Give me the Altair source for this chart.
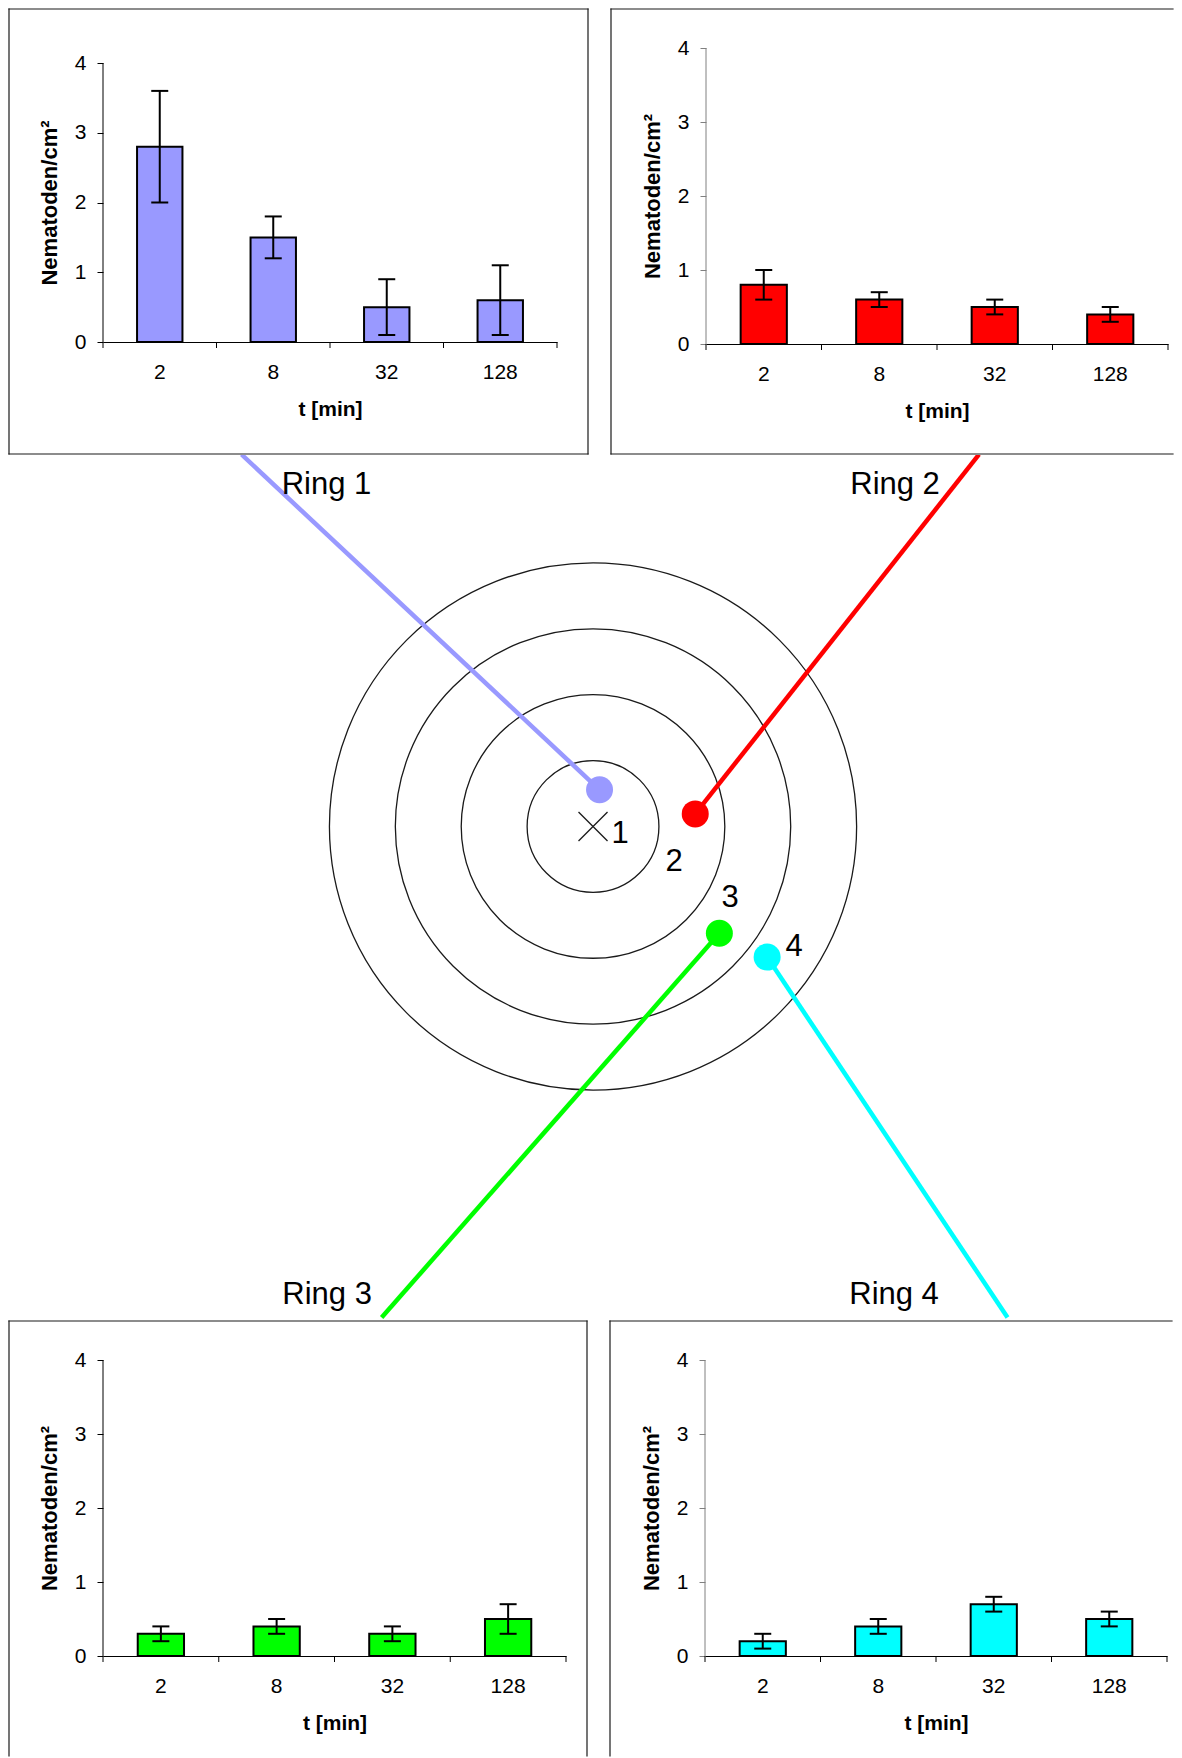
import altair as alt
import pandas as pd

# ---------------- data ----------------
times = ["2", "8", "32", "128"]
y_ticks = [0, 1, 2, 3, 4]

ring_names = ["Ring 1", "Ring 2", "Ring 3", "Ring 4"]
ring_colors = ["#9999FF", "#FF0000", "#00FF00", "#00FFFF"]

mean_1 = [2.8, 1.5, 0.5, 0.6]
low_1 = [2.0, 1.2, 0.1, 0.1]
high_1 = [3.6, 1.8, 0.9, 1.1]

mean_2 = [0.8, 0.6, 0.5, 0.4]
low_2 = [0.6, 0.5, 0.4, 0.3]
high_2 = [1.0, 0.7, 0.6, 0.5]

mean_3 = [0.3, 0.4, 0.3, 0.5]
low_3 = [0.2, 0.3, 0.2, 0.3]
high_3 = [0.4, 0.5, 0.4, 0.7]

mean_4 = [0.2, 0.4, 0.7, 0.5]
low_4 = [0.1, 0.3, 0.6, 0.4]
high_4 = [0.3, 0.5, 0.8, 0.6]

# target diagram, in units of one ring width, centre of the rings at (0, 0)
ring_radius = [1, 2, 3, 4]
ring_number = ["1", "2", "3", "4"]
number_x = [0.41, 1.229, 2.079, 3.05]
number_y = [-0.258, -0.683, -1.229, -1.958]
dot_x = [0.099, 1.551, 1.917, 2.642]
dot_y = [0.557, 0.191, -1.621, -1.982]
lead_x = [-5.334, 5.857, -3.208, 6.290]
lead_y = [5.645, 5.645, -7.451, -7.451]
label_x = [-4.044, 4.583, -4.036, 4.568]
label_y = [5.042, 5.042, -7.253, -7.253]
diagram_x_domain = [-7.436, 8.801]
diagram_y_domain = [-7.489, 5.637]

FONT = "Liberation Sans"
one = pd.DataFrame({"a": [0]})


def panel(mean, low, high, color, w, h, ymax, title_y, axis_color, segments):
    df = pd.DataFrame({"t": times, "mean": mean, "low": low, "high": high})
    xscale = alt.Scale(domain=times, paddingInner=0, paddingOuter=0)
    yscale = alt.Scale(domain=[0, ymax], nice=False, zero=True)
    xaxis = alt.Axis(title="t [min]", labelAngle=0, ticks=False, tickSize=0,
                     labelPadding=30, labelBaseline="middle", labelFontSize=21,
                     labelColor="black", domainColor="black", domainWidth=1,
                     titleFontSize=21, titleFontWeight="bold", titleColor="black",
                     titleY=67, titleBaseline="middle")
    yaxis = alt.Axis(values=y_ticks, domain=False, grid=False, tickSize=6,
                     tickColor=axis_color, labelPadding=11, labelFontSize=21,
                     labelColor="black", title="Nematoden/cm²", titleFontSize=22,
                     titleFontWeight="bold", titleColor="black", titleAngle=270,
                     titleX=-54, titleY=title_y, titleBaseline="middle",
                     titleAlign="center")
    X = alt.X("t:N", sort=times, scale=xscale, axis=xaxis)
    base = alt.Chart(df)

    layers = []
    for (x1, x2, y1, y2) in segments:
        layers.append(
            alt.Chart(one).mark_rule(color="#1a1a1a", strokeWidth=1.2, strokeCap="square").encode(
                x=alt.value(x1), x2=alt.value(x2), y=alt.value(y1), y2=alt.value(y2))
        )
    bars = base.mark_bar(width=alt.RelativeBandSize(0.4), fill=color,
                         stroke="black", strokeWidth=2).encode(
        x=X, y=alt.Y("mean:Q", scale=yscale, axis=yaxis))
    err = base.mark_rule(color="black", strokeWidth=2).encode(
        x=X, y=alt.Y("low:Q", scale=yscale, axis=yaxis), y2="high:Q")
    cap_lo = base.mark_tick(color="black", thickness=2, size=17, opacity=1).encode(
        x=X, y=alt.Y("low:Q", scale=yscale, axis=yaxis))
    cap_hi = base.mark_tick(color="black", thickness=2, size=17, opacity=1).encode(
        x=X, y=alt.Y("high:Q", scale=yscale, axis=yaxis))
    yline = alt.Chart(pd.DataFrame({"y0": [0], "y1": [4]})).mark_rule(
        color=axis_color, strokeWidth=1).encode(
        x=alt.value(0), y=alt.Y("y0:Q", scale=yscale, axis=yaxis), y2="y1:Q")
    xticks = base.mark_rule(color="black", strokeWidth=1).encode(
        x=alt.X("t:N", sort=times, scale=xscale, axis=xaxis, bandPosition=0),
        y=alt.value(h), y2=alt.value(h + 6))
    xend = alt.Chart(one).mark_rule(color="black", strokeWidth=1).encode(
        x=alt.value(w), y=alt.value(h), y2=alt.value(h + 6))
    layers += [bars, err, cap_lo, cap_hi, yline, xticks, xend]
    return alt.layer(*layers).properties(width=w, height=h)


p1 = panel(mean_1, low_1, high_1, ring_colors[0], 454, 294, 4 * 294 / 279, 154.5, "black",
           [(-94, -94, -39, 406), (485, 485, -39, 406), (-94, 485, -39, -39), (-94, 485, 406, 406)])
p2 = panel(mean_2, low_2, high_2, ring_colors[1], 462, 296, 4, 148, "#808080",
           [(-95, -95, -39, 406), (-95, 467, -39, -39), (-95, 467, 406, 406)])
p3 = panel(mean_3, low_3, high_3, ring_colors[2], 463, 296, 4, 148, "black",
           [(-94, -94, -39, 396), (-94, 484, -39, -39), (484, 484, -39, 396)])
p4 = panel(mean_4, low_4, high_4, ring_colors[3], 462, 296, 4, 148, "#808080",
           [(-95, -95, -39, 396), (-95, 467, -39, -39)])

# ---------------- diagram ----------------
DW, DH = 1070, 865
px_per_unit = DW / (diagram_x_domain[1] - diagram_x_domain[0])
xs = alt.Scale(domain=diagram_x_domain, nice=False, zero=False)
ys = alt.Scale(domain=diagram_y_domain, nice=False, zero=False)
DX = lambda f: alt.X(f, scale=xs, axis=None)
DY = lambda f: alt.Y(f, scale=ys, axis=None)
cscale = alt.Scale(domain=ring_names, range=ring_colors)

rings_df = pd.DataFrame({"x": [0] * 4, "y": [0] * 4, "r2": [r * r for r in ring_radius]})
rings = alt.Chart(rings_df).mark_point(shape="circle", filled=False, stroke="#1a1a1a",
                                       strokeWidth=1.3, opacity=1).encode(
    x=DX("x:Q"), y=DY("y:Q"),
    size=alt.Size("r2:Q", scale=alt.Scale(domain=[0, 16], range=[0, 16 * (2 * px_per_unit) ** 2]),
                  legend=None))

centre = alt.Chart(pd.DataFrame({"x": [0], "y": [0]})).mark_point(
    shape="M-1,-1L1,1M-1,1L1,-1", size=841, filled=False, stroke="#1a1a1a",
    strokeWidth=1.3, opacity=1).encode(x=DX("x:Q"), y=DY("y:Q"))

lead_rows = []
for i, name in enumerate(ring_names):
    lead_rows.append({"ring": name, "x": dot_x[i], "y": dot_y[i], "o": 0})
    lead_rows.append({"ring": name, "x": lead_x[i], "y": lead_y[i], "o": 1})
leads = alt.Chart(pd.DataFrame(lead_rows)).mark_line(strokeWidth=4.5, clip=True).encode(
    x=DX("x:Q"), y=DY("y:Q"), color=alt.Color("ring:N", scale=cscale, legend=None),
    detail="ring:N", order="o:Q")

dots = alt.Chart(pd.DataFrame({"ring": ring_names, "x": dot_x, "y": dot_y})).mark_point(
    shape="circle", filled=True, size=729, opacity=1).encode(
    x=DX("x:Q"), y=DY("y:Q"), color=alt.Color("ring:N", scale=cscale, legend=None))

numbers = alt.Chart(pd.DataFrame({"n": ring_number, "x": number_x, "y": number_y})).mark_text(
    fontSize=31, align="center", baseline="alphabetic", color="black").encode(
    x=DX("x:Q"), y=DY("y:Q"), text="n:N")

labels = alt.Chart(pd.DataFrame({"n": ring_names, "x": label_x, "y": label_y})).mark_text(
    fontSize=31, align="center", baseline="alphabetic", color="black").encode(
    x=DX("x:Q"), y=DY("y:Q"), text="n:N")

diagram = alt.layer(rings, leads, dots, centre, numbers, labels).properties(width=DW, height=DH)

row1 = alt.hconcat(p1, p2, spacing=21)
row3 = alt.hconcat(p3, p4, spacing=21)

chart = alt.vconcat(row1, diagram, row3, spacing=0).properties(
    padding=0, background="white"
).configure(font=FONT).configure_view(stroke="transparent", strokeWidth=0)

chart.save("out.html", embed_options={"renderer": "svg", "actions": False})
